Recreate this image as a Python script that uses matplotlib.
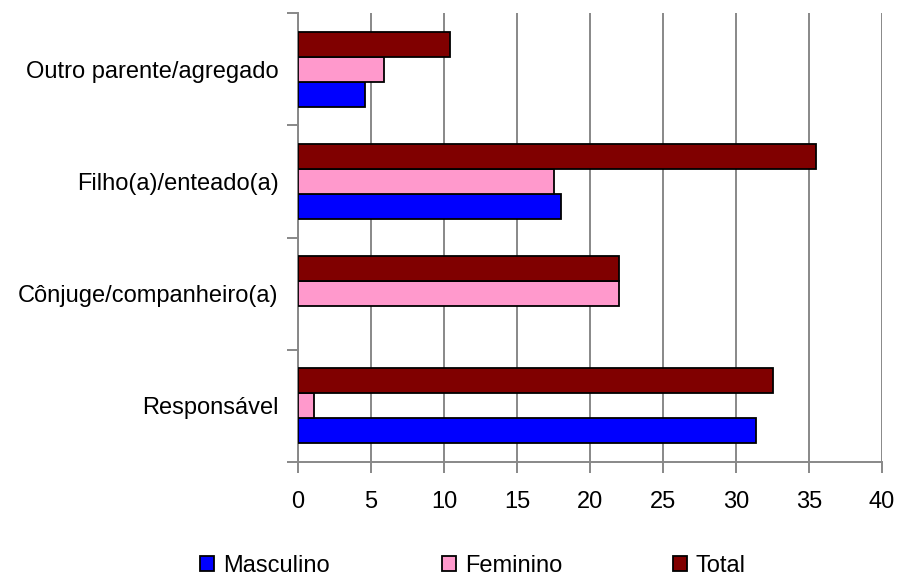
import matplotlib
matplotlib.use("Agg")
import matplotlib.pyplot as plt
import numpy as np
from matplotlib.patches import Patch

categories = ["Responsável", "Cônjuge/companheiro(a)", "Filho(a)/enteado(a)", "Outro parente/agregado"]
masculino = [31.4, 0.0, 18.0, 4.6]
feminino = [1.1, 22.0, 17.5, 5.9]
total = [32.5, 22.0, 35.5, 10.4]
series_names = ["Masculino", "Feminino", "Total"]
colors = ["#0000FF", "#FF99CC", "#800000"]
xticks = [0, 5, 10, 15, 20, 25, 30, 35, 40]

plt.rcParams['font.family'] = ['Liberation Sans', 'DejaVu Sans']
FS = 17

fig = plt.figure(figsize=(8.97, 5.76), dpi=100)
ax = fig.add_axes([298/897, 1-462/576, (882-298)/897, (462-13)/576])

y = np.arange(len(categories))
h = 0.222
for k, (vals, c) in enumerate(zip([masculino, feminino, total], colors)):
    edges = ['black' if v > 0 else 'none' for v in vals]
    ax.barh(y + (k - 1) * h, vals, height=h, color=c, edgecolor=edges,
            linewidth=1.3, zorder=3)

ax.set_xlim(0, 40)
ax.set_ylim(-0.5, len(categories) - 0.5)
ax.set_xticks(xticks)
ax.set_xticklabels([str(v) for v in xticks], fontsize=FS)
ax.xaxis.grid(True, color='#888888', linewidth=1.4, zorder=0)

ax.set_yticks(np.arange(len(categories) + 1) - 0.5)
ax.set_yticklabels([])
ax.set_yticks(y, minor=True)
ax.set_yticklabels(categories, minor=True, fontsize=FS)
ax.tick_params(axis='y', which='minor', length=0, pad=14)
ax.tick_params(axis='y', which='major', length=8, width=1.4, color='#888888', direction='out')
ax.tick_params(axis='x', which='major', length=8, width=1.4, color='#888888', direction='out', pad=13)

for s in ['top', 'right']:
    ax.spines[s].set_visible(False)
for s in ['left', 'bottom']:
    ax.spines[s].set_color('#888888')
    ax.spines[s].set_linewidth(1.4)

marker_x = [200, 442, 673]
for name, c, mx in zip(series_names, colors, marker_x):
    handle = Patch(facecolor=c, edgecolor='black', linewidth=1.3)
    fig.legend([handle], [name], loc='center left',
               bbox_to_anchor=(mx/897, 1-566/576), frameon=False,
               fontsize=FS, borderpad=0, borderaxespad=0,
               handlelength=0.59, handleheight=0.59, handletextpad=0.38)

fig.savefig("out.png", dpi=100)
